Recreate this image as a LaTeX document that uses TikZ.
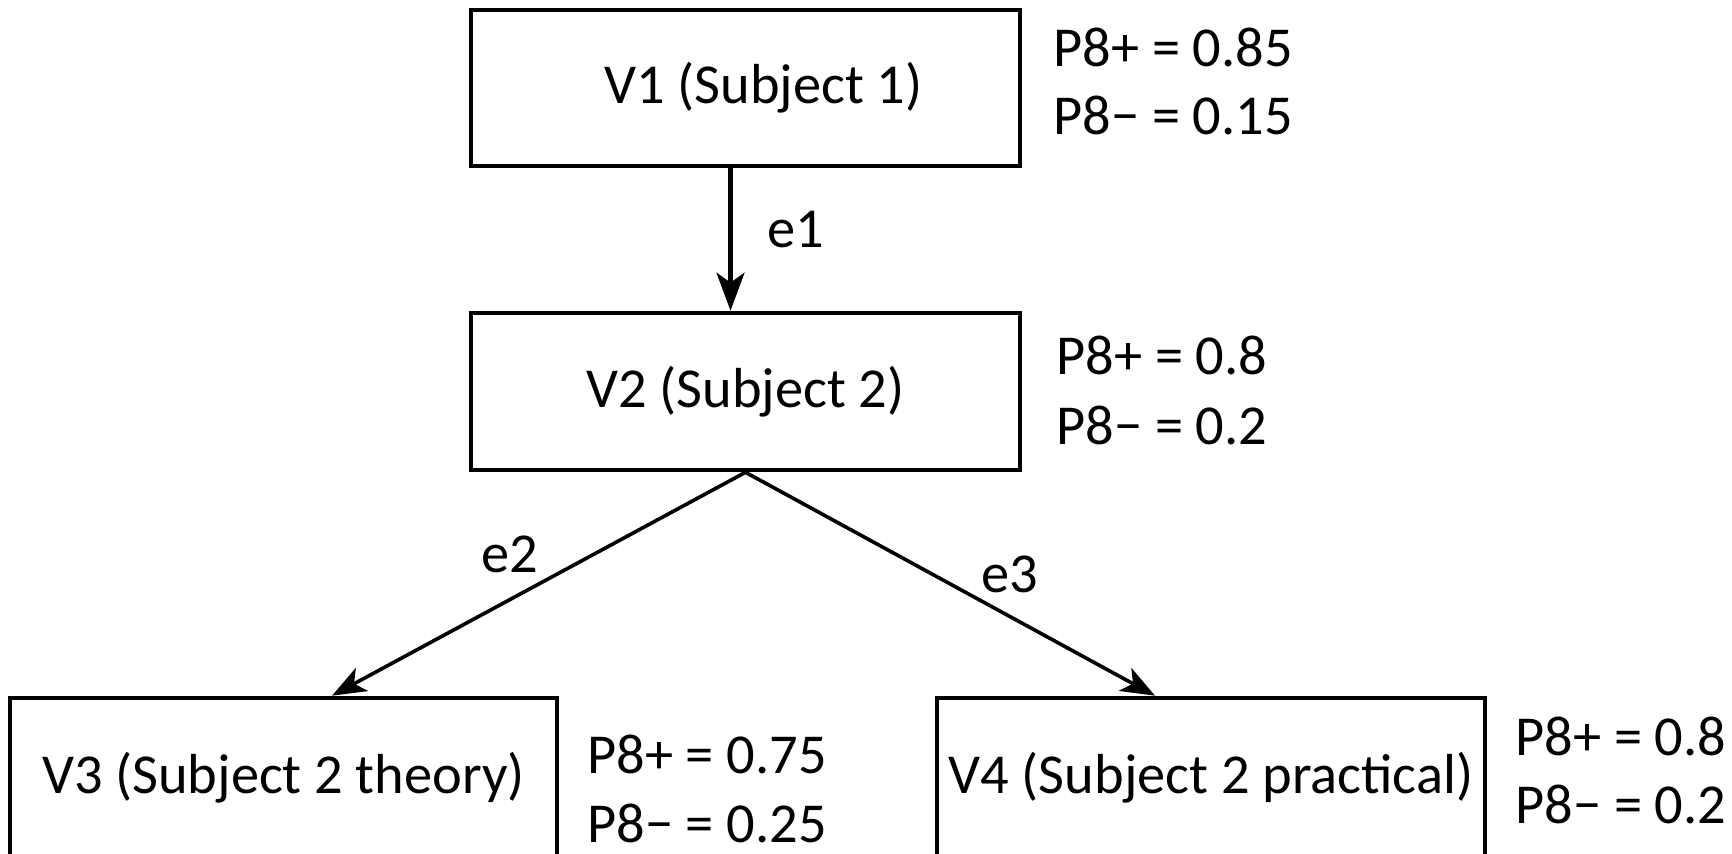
\documentclass[tikz,border=0pt]{standalone}
\usepackage{fontspec}
\setmainfont{Carlito}
\usetikzlibrary{arrows.meta,calc}
\begin{document}
\begin{tikzpicture}[x=0.5pt,y=-0.5pt,
  every node/.style={font=\fontsize{28.2pt}{34pt}\selectfont},
  box/.style={draw,line width=2.3pt,inner sep=0pt,anchor=center},
  lbl/.style={anchor=base west,inner sep=0pt},
  conn/.style={line width=2.1pt,-{Stealth[length=19pt,width=14pt,inset=5pt]}},
  diag/.style={line width=1.8pt,-{Stealth[length=17pt,width=13pt,inset=4.5pt]}}]
\useasboundingbox[fill=white] (0,0) rectangle (1732,854);
% boxes
\node[box,minimum width=274.5pt,minimum height=78pt] (V1) at (745.5,88) {\hspace*{18pt}V1 (Subject 1)};
\node[box,minimum width=274.5pt,minimum height=78.5pt] (V2) at (745.5,391.5) {V2 (Subject 2)};
\node[box,minimum width=273.5pt,minimum height=80pt] (V3) at (283.5,778) {V3 (Subject 2 theory)};
\node[box,minimum width=274pt,minimum height=80pt] (V4) at (1211,778) {V4 (Subject 2 practical)};
% probabilities
\node[lbl] (p1a) at (1053,67) {P8+ = 0.85};
\node[lbl] (p1b) at (1053,135) {P8− = 0.15};
\node[lbl] (p2a) at (1056,375) {P8+ = 0.8};
\node[lbl] (p2b) at (1056,445) {P8− = 0.2};
\node[lbl] (p3a) at (587,773) {P8+ = 0.75};
\node[lbl] (p3b) at (587,842) {P8− = 0.25};
\node[lbl] (p4a) at (1515,755) {P8+ = 0.8};
\node[lbl] (p4b) at (1515,823) {P8− = 0.2};
% connectors
\draw[conn] ($(V1.south)+(-15,0)$) -- ($(V2.north)+(-15,0)$);
\draw[diag] (V2.south) -- ($(V3.north)+(48.5,0)$);
\draw[diag] (V2.south) -- ($(V4.north)+(-56,0)$);
% edge labels
\node[lbl] (e1) at (767,248) {e1};
\node[lbl] (e2) at (481,573) {e2};
\node[lbl] (e3) at (981,592) {e3};
\end{tikzpicture}
\end{document}
